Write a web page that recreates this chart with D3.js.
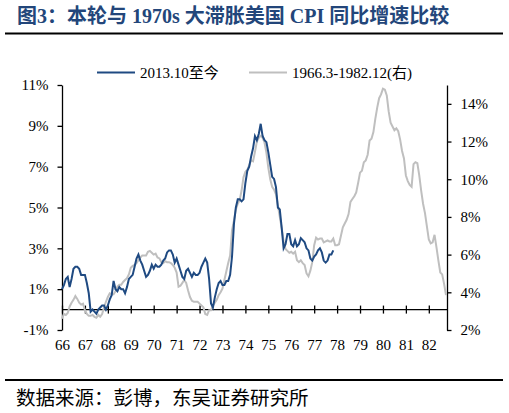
<!DOCTYPE html>
<html>
  <head>
    <meta charset="utf-8">
    <title>本轮与1970s大滞胀美国CPI同比增速比较</title>
    <style>
      body { margin: 0; background: #fff; }
      text { font-family: "Liberation Serif", "Noto Sans CJK SC", serif; fill: #000; }
      .axis path, .axis line { stroke: #000; stroke-width: 1.3; }
      .axis text { font-size: 15px; }
    </style>
  </head>

  <body>
    <div id="chart"></div>

    <script src="https://cdn.jsdelivr.net/npm/d3@7/dist/d3.min.js"></script>

<script>

  // x categories: one label per year, placed every 12 months from 1966.3
  var yearLabels = ["66","67","68","69","70","71","72","73","74","75","76","77","78","79","80","81","82"];

  var leftTicks = [-1, 1, 3, 5, 7, 9, 11];
  var rightTicks = [2, 4, 6, 8, 10, 12, 14];

  // 2013.10 to 2025.08, left axis (%)
  var recentCpi = [
    1.0, 1.2, 1.5,
    1.6, 1.1, 1.5, 2.0, 2.1, 2.1, 2.0, 1.7, 1.7, 1.7, 1.3, 0.8,
    -0.1, 0.0, -0.1, -0.2, 0.0, 0.1, 0.2, 0.2, 0.0, 0.2, 0.5, 0.7,
    1.4, 1.0, 0.9, 1.1, 1.0, 1.0, 0.8, 1.1, 1.5, 1.6, 1.7, 2.1,
    2.5, 2.7, 2.4, 2.2, 1.9, 1.6, 1.7, 1.9, 2.2, 2.0, 2.2, 2.1,
    2.1, 2.2, 2.4, 2.5, 2.8, 2.9, 2.9, 2.7, 2.3, 2.5, 2.2, 1.9,
    1.6, 1.5, 1.9, 2.0, 1.8, 1.6, 1.8, 1.7, 1.7, 1.8, 2.1, 2.3,
    2.5, 2.3, 1.5, 0.3, 0.1, 0.6, 1.0, 1.3, 1.4, 1.2, 1.2, 1.4,
    1.4, 1.7, 2.6, 4.2, 5.0, 5.4, 5.4, 5.3, 5.4, 6.2, 6.8, 7.0,
    7.5, 7.9, 8.5, 8.3, 8.6, 9.1, 8.5, 8.3, 8.2, 7.7, 7.1, 6.5,
    6.4, 6.0, 5.0, 4.9, 4.0, 3.0, 3.2, 3.7, 3.7, 3.2, 3.1, 3.4,
    3.1, 3.2, 3.5, 3.4, 3.3, 3.0, 2.9, 2.5, 2.4, 2.6, 2.7, 2.9,
    3.0, 2.8, 2.4, 2.3, 2.4, 2.7, 2.7, 2.9
  ];

  // 1966.3 to 1982.12, right axis (%)
  var seventiesCpi = [
    2.6, 2.85, 2.8, 2.9, 3.25, 3.45, 3.6, 3.8, 3.65, 3.45,
    3.35, 3.4, 3.05, 2.85, 2.75, 2.75, 2.8, 2.7, 2.65, 2.8, 2.7, 2.85,
    3.2, 3.5, 3.75, 3.95, 3.9, 3.9, 4.05, 4.3, 4.4, 4.4, 4.55, 4.65,
    4.75, 4.95, 5.3, 5.4, 5.45, 5.55, 5.7, 5.85, 5.95, 5.95, 5.95, 6.15,
    6.2, 6.1, 6.0, 6.05, 5.85, 5.8, 5.6, 5.55, 5.65, 5.6, 5.6, 5.55,
    5.45, 5.3, 5.05, 4.3, 4.35, 4.5, 4.65, 4.5, 4.1, 3.75, 3.55, 3.5,
    3.5, 3.5, 3.4, 3.3, 3.2, 2.85, 2.8, 3.05, 3.05, 3.3, 3.45, 3.6,
    3.85, 4.0, 4.2, 4.65, 5.1, 5.55, 5.95, 7.3, 7.8, 8.4, 8.7, 8.9,
    9.4, 10.1, 10.4, 10.5, 10.75, 11.0, 10.95, 11.45, 12.0, 12.2, 12.3, 12.2,
    11.95, 11.4, 10.6, 10.0, 9.6, 9.45, 9.2, 8.6, 8.0, 7.4, 6.7, 6.3,
    6.2, 6.1, 6.15, 6.05, 6.15, 5.7, 5.6, 5.7, 5.55, 5.45, 5.0, 4.85,
    5.15, 5.6, 6.5, 6.9, 6.8, 6.85, 6.85, 6.65, 6.7, 6.75, 6.7, 6.7,
    6.85, 6.5, 6.5, 6.55, 7.0, 7.45, 7.65, 7.85, 8.15, 8.8, 8.95, 9.1,
    9.3, 9.8, 10.35, 10.45, 10.9, 11.0, 11.3, 12.05, 12.15, 12.5, 13.2, 13.8,
    14.3, 14.5, 14.8, 14.75, 14.45, 13.6, 13.0, 12.8, 12.6, 12.7, 12.55, 12.1,
    11.5, 11.1, 10.2, 9.9, 9.7, 9.6, 10.8, 10.9, 10.85, 10.2, 9.4, 8.7,
    8.2, 7.5, 6.8, 6.6, 6.65, 7.05, 6.4, 5.7, 5.05, 4.95, 4.45, 3.85
  ];

  var seriesNames = ["2013.10至今", "1966.3-1982.12(右)"];
  var colors = ["#1f4a82", "#bfbfbf"];

  var width = 509, height = 413;
  var margin = {top: 85, right: 62, bottom: 83, left: 62};
  var plotW = width - margin.left - margin.right,
      plotH = height - margin.top - margin.bottom;

  var svg = d3.select('#chart')
    .append('svg')
    .attr("width", width)
    .attr("height", height);

  // title and rules
  svg.append("text")
    .attr("x", 17)
    .attr("y", 23)
    .style("font-size", "20px")
    .style("font-weight", "bold")
    .style("fill", "#23467a")
    .text("图3：本轮与 1970s 大滞胀美国 CPI 同比增速比较");

  svg.append("line")
    .attr("x1", 5).attr("x2", 503)
    .attr("y1", 33.5).attr("y2", 33.5)
    .style("stroke", "#000").style("stroke-width", 2);

  svg.append("line")
    .attr("x1", 5).attr("x2", 503)
    .attr("y1", 380).attr("y2", 380)
    .style("stroke", "#000").style("stroke-width", 2);

  svg.append("text")
    .attr("x", 16)
    .attr("y", 404.5)
    .style("font-size", "19.5px")
    .text("数据来源：彭博，东吴证券研究所");

  var g = svg.append("g")
    .attr("transform", "translate(" + margin.left + "," + margin.top + ")");

  var x = d3.scaleLinear()
    .domain([0, seventiesCpi.length - 1])
    .range([0, plotW - 1]);

  var yLeft = d3.scaleLinear()
    .domain([-1, 11])
    .range([plotH, 0]);

  var yRight = d3.scaleLinear()
    .domain([2, 15])
    .range([plotH, 0]);

  // left axis
  g.append("g")
    .attr("class", "axis axis--left")
    .call(d3.axisLeft(yLeft)
      .tickValues(leftTicks)
      .tickSize(4.5)
      .tickSizeOuter(0)
      .tickPadding(9)
      .tickFormat(function(d){ return d + "%"; }));

  // right axis
  g.append("g")
    .attr("class", "axis axis--right")
    .attr("transform", "translate(" + plotW + ",0)")
    .call(d3.axisRight(yRight)
      .tickValues(rightTicks)
      .tickSize(4.5)
      .tickSizeOuter(0)
      .tickPadding(9)
      .tickFormat(function(d){ return d + "%"; }));

  // x axis sits on the 0% line of the left axis
  var xAxis = g.append("g")
    .attr("class", "axis axis--x")
    .attr("transform", "translate(0," + yLeft(0) + ")")
    .call(d3.axisBottom(x)
      .tickValues(yearLabels.map(function(d, i){ return i * 12; }))
      .tickSize(4)
      .tickSizeOuter(0)
      .tickFormat(function(d){ return yearLabels[d / 12]; }));

  xAxis.select(".domain").attr("d", "M0,0H" + plotW);
  xAxis.selectAll(".tick line").attr("y1", -4).attr("y2", 4);
  xAxis.selectAll(".tick text").attr("y", plotH - yLeft(0) + 15).attr("dy", "0.35em");

  var lineRight = d3.line()
    .x(function(d, i){ return x(i); })
    .y(function(d){ return yRight(d); });

  var lineLeft = d3.line()
    .x(function(d, i){ return x(i); })
    .y(function(d){ return yLeft(d); });

  g.append("path")
    .datum(seventiesCpi)
    .attr("d", lineRight)
    .style("fill", "none")
    .style("stroke", colors[1])
    .style("stroke-width", 2);

  g.append("path")
    .datum(recentCpi)
    .attr("d", lineLeft)
    .style("fill", "none")
    .style("stroke", colors[0])
    .style("stroke-width", 2);

  // legend
  var legend = svg.append("g").attr("class", "legend");
  var legendX = [97, 249];

  seriesNames.forEach(function(name, i) {
    legend.append("line")
      .attr("x1", legendX[i]).attr("x2", legendX[i] + 38)
      .attr("y1", 72.5).attr("y2", 72.5)
      .style("stroke", colors[i])
      .style("stroke-width", 2.2);
    legend.append("text")
      .attr("x", legendX[i] + 43)
      .attr("y", 78)
      .style("font-size", "15px")
      .text(name);
  });

</script>
  </body>
</html>
